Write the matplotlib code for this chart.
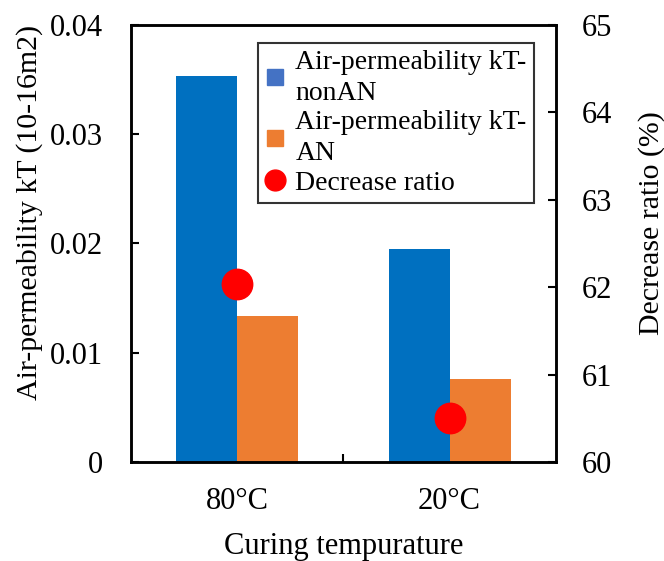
import matplotlib
matplotlib.use("Agg")
import matplotlib.pyplot as plt
from matplotlib.lines import Line2D
import numpy as np

plt.rcParams['font.family'] = ['Liberation Serif', 'DejaVu Serif']

# data
categories = ['80°C', '20°C']
kt_nonan = [0.0353, 0.0195]
kt_an = [0.0134, 0.0076]
decrease_ratio = [62.04, 60.50]

blue = '#0070C0'
orange = '#ED7D31'

fig = plt.figure(figsize=(6.64, 5.61), dpi=100)
ax = fig.add_axes([0.197, 0.1765, 0.64, 0.779])

x = np.arange(len(categories))
w = 0.287
ax.bar(x - w / 2, kt_nonan, w, color=blue)
ax.bar(x + w / 2, kt_an, w, color=orange)

ax.set_xlim(-0.5, 1.5)
ax.set_ylim(0, 0.04)
ax.set_yticks([0, 0.01, 0.02, 0.03, 0.04])
ax.set_yticklabels(['0', '0.01', '0.02', '0.03', '0.04'])
ax.set_xticks(x)
ax.set_xticklabels(categories)
ax.set_xticks([0.5], minor=True)
ax.tick_params(axis='x', which='major', length=0, pad=18, labelsize=22)
ax.tick_params(axis='x', which='minor', direction='in', length=6, width=1.5)
ax.tick_params(axis='y', direction='in', length=6, width=1.5, labelsize=22, pad=20)
for s in ax.spines.values():
    s.set_linewidth(1.8)
ax.set_xlabel('Curing tempurature', fontsize=22)
ax.xaxis.set_label_coords(0.5, -0.16)
ax.set_ylabel('Air-permeability kT (10-16m2)', fontsize=21.5)
ax.yaxis.set_label_coords(-0.207, 0.572)

ax2 = ax.twinx()
ax2.scatter(x, decrease_ratio, s=480, color='#FF0000', zorder=5, clip_on=False)
ax2.set_ylim(60, 65)
ax2.set_yticks([60, 61, 62, 63, 64, 65])
ax2.tick_params(axis='y', direction='in', length=6, width=1.5, labelsize=22, pad=19)
for s in ax2.spines.values():
    s.set_linewidth(1.8)
ax2.set_ylabel('Decrease ratio (%)', fontsize=21.5)
ax2.yaxis.set_label_coords(1.193, 0.547)

handles = [
    Line2D([], [], ls='none', marker='s', markersize=12, color='#4472C4'),
    Line2D([], [], ls='none', marker='s', markersize=12, color=orange),
    Line2D([], [], ls='none', marker='o', markersize=15, color='#FF0000'),
]
labels = ['Air-permeability kT-\nnonAN', 'Air-permeability kT-\nAN', 'Decrease ratio']
leg = ax2.legend(handles, labels, loc='upper left', bbox_to_anchor=(0.299, 0.959),
                 fontsize=20, frameon=True, fancybox=False, edgecolor='black',
                 handlelength=0.7, handletextpad=0.4, borderpad=0.25,
                 labelspacing=0.16, borderaxespad=0)
leg.get_frame().set_linewidth(1.5)
for t in leg.get_texts():
    t.set_linespacing(1.3)

fig.savefig('out.png', dpi=100)
